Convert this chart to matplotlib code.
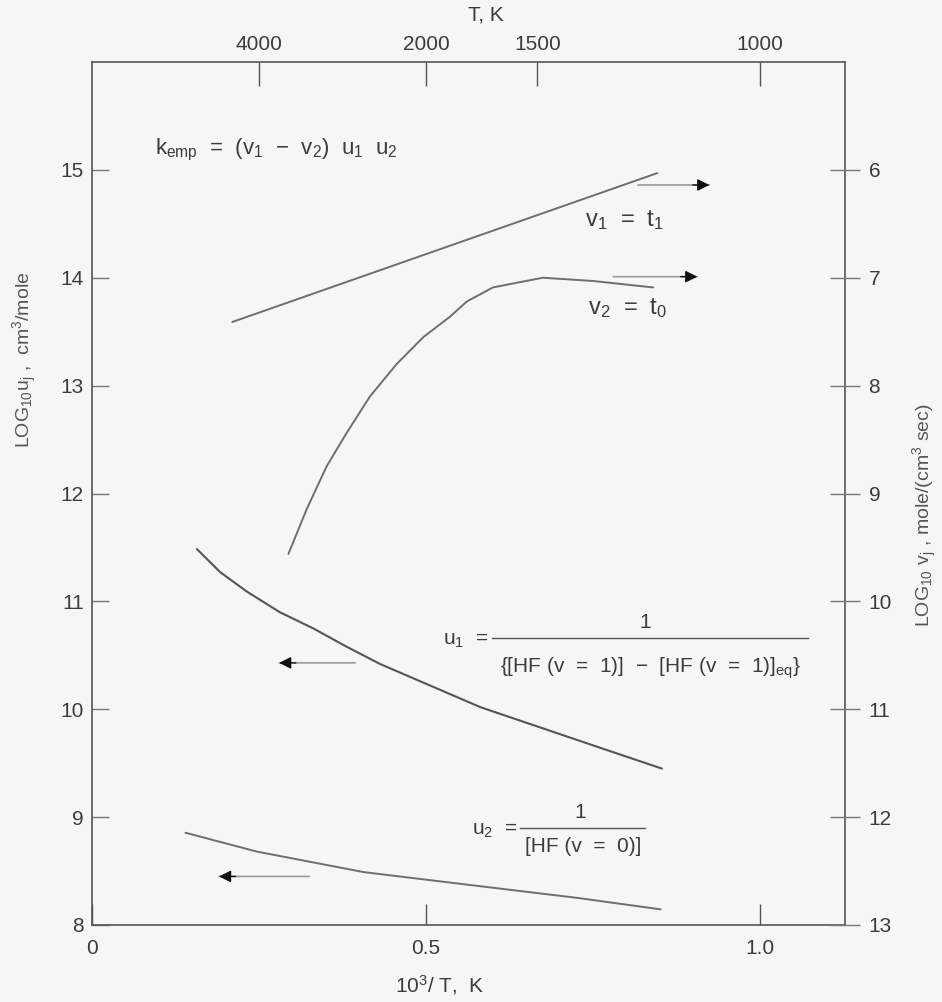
import numpy as np
import matplotlib
matplotlib.use("Agg")
import matplotlib.pyplot as plt
from matplotlib.lines import Line2D
from matplotlib import font_manager as fm

# ---------------- data ----------------
# x = 10^3/T ; left axis LOG10 u_j ; right axis LOG10 v_j
v1_x = [0.210, 0.846]
v1_y = [7.41, 6.03]

v2_x = [0.294, 0.321, 0.351, 0.381, 0.416, 0.456, 0.496, 0.536, 0.561, 0.600, 0.641, 0.675, 0.750, 0.840]
v2_y = [9.56, 9.15, 8.75, 8.44, 8.10, 7.80, 7.55, 7.36, 7.22, 7.09, 7.04, 7.00, 7.03, 7.09]

u1_x = [0.157, 0.192, 0.232, 0.281, 0.331, 0.381, 0.431, 0.506, 0.581, 0.681, 0.781, 0.853]
u1_y = [11.485, 11.27, 11.09, 10.90, 10.75, 10.58, 10.42, 10.22, 10.02, 9.81, 9.60, 9.45]

u2_x = [0.140, 0.247, 0.407, 0.567, 0.728, 0.851]
u2_y = [8.855, 8.68, 8.49, 8.37, 8.25, 8.145]

x_ticks = [0, 0.5, 1.0]
x_ticklabels = ["0", "0.5", "1.0"]
left_ticks = [8, 9, 10, 11, 12, 13, 14, 15]
right_ticks = [6, 7, 8, 9, 10, 11, 12, 13]
T_ticks = [4000, 2000, 1500, 1000]

# ---------------- fonts ----------------
names = {f.name for f in fm.fontManager.ttflist}
FONT = "Liberation Sans Narrow" if "Liberation Sans Narrow" in names else "Liberation Sans"
plt.rcParams["font.family"] = [FONT, "DejaVu Sans"]
plt.rcParams["mathtext.fontset"] = "custom"
plt.rcParams["mathtext.rm"] = FONT
plt.rcParams["mathtext.it"] = FONT
plt.rcParams["mathtext.bf"] = FONT

TXT = "#3c3c3c"
LINE = "#6e6e6e"
BG = "#f6f6f4"
FS = 15

W, H = 942, 1002
L, R, T, B = 92, 845, 62, 925

fig = plt.figure(figsize=(W / 100, H / 100), dpi=100, facecolor=BG)
ax = fig.add_axes([L / W, (H - B) / H, (R - L) / W, (B - T) / H])
ax.set_facecolor(BG)
ax.set_xlim(0, 1.127)
ax.set_ylim(8, 16)


def axpos(px, py):
    """pixel position of the page -> axes fraction (for annotations only)"""
    return (px - L) / (R - L), (B - py) / (B - T)


for s in ax.spines.values():
    s.set_color("#555555")
    s.set_linewidth(1.2)

ax.set_xticks(x_ticks)
ax.set_xticklabels(x_ticklabels)
ax.set_yticks(left_ticks)
ax.tick_params(axis="x", direction="in", length=15, width=1, color="#555", labelsize=FS, labelcolor=TXT, pad=10)
ax.tick_params(axis="y", direction="in", length=12, width=1, color="#777", labelsize=FS, labelcolor=TXT, pad=6)

# right axis
axr = ax.twinx()
axr.set_ylim(13, 5)
axr.set_yticks(right_ticks)
axr.tick_params(axis="y", direction="inout", length=22, width=1, color="#777", labelsize=FS, labelcolor=TXT, pad=6)
for s in axr.spines.values():
    s.set_visible(False)

# top axis (T, K)
axt = ax.twiny()
axt.set_xlim(ax.get_xlim())
axt.set_xticks(1000.0 / np.array(T_ticks, dtype=float))
axt.set_xticklabels([str(t) for t in T_ticks])
axt.tick_params(axis="x", direction="in", length=17, width=1, color="#555", labelsize=FS, labelcolor=TXT, pad=6)
for s in axt.spines.values():
    s.set_visible(False)

# curves
axr.plot(v1_x, v1_y, color=LINE, lw=1.4, solid_capstyle="round")
axr.plot(v2_x, v2_y, color=LINE, lw=1.4, solid_capstyle="round", solid_joinstyle="round")
ax.plot(u1_x, u1_y, color="#555555", lw=1.5, solid_capstyle="round", solid_joinstyle="round")
ax.plot(u2_x, u2_y, color=LINE, lw=1.4, solid_capstyle="round", solid_joinstyle="round")


# arrows (gray shaft + black head)
def arrow(tail_x, head_x, y):
    ax.annotate("", xy=(head_x, y), xytext=(tail_x, y),
                arrowprops=dict(arrowstyle="-", color="#9a9a9a", lw=1.2, shrinkA=0, shrinkB=0))
    d = 0.025 if head_x > tail_x else -0.025
    ax.annotate("", xy=(head_x, y), xytext=(head_x - d, y),
                arrowprops=dict(arrowstyle="-|>", color="#111111", lw=1.0,
                                mutation_scale=18, shrinkA=0, shrinkB=0))


arrow(0.817, 0.924, 14.86)
arrow(0.780, 0.906, 14.01)
arrow(0.394, 0.280, 10.43)
arrow(0.325, 0.190, 8.45)


def txt(px, py, s, fs=FS, ha="center", va="center", **kw):
    x, y = axpos(px, py)
    ax.text(x, y, s, transform=ax.transAxes, fontsize=fs, color=kw.pop("color", TXT),
            ha=ha, va=va, **kw)


def hline(px0, px1, py):
    x0, y0 = axpos(px0, py)
    x1, _ = axpos(px1, py)
    ax.add_line(Line2D([x0, x1], [y0, y0], transform=ax.transAxes, color="#555", lw=1.0))


# formulas / labels
txt(155, 150, r"k$_{\rm emp}$  =  (v$_1$  $-$  v$_2$)  u$_1$  u$_2$", fs=FS + 1, ha="left")
txt(585, 220, r"v$_1$  =  t$_1$", fs=FS + 2, ha="left")
txt(588, 308, r"v$_2$  =  t$_0$", fs=FS + 2, ha="left")

# u1 fraction
txt(488, 640, r"u$_1$  =", fs=FS, ha="right")
hline(492, 808, 638)
txt(645, 623, "1", fs=FS)
txt(651, 668, r"{[HF (v  =  1)]  $-$  [HF (v  =  1)]$_{\rm eq}$}", fs=FS)

# u2 fraction
txt(517, 831, r"u$_2$  =", fs=FS, ha="right")
hline(520, 645, 828)
txt(580, 813, "1", fs=FS)
txt(583, 846, "[HF (v  =  0)]", fs=FS)

# axis titles
ax.text(0.523, 1.054, "T, K", transform=ax.transAxes, fontsize=FS, color=TXT, ha="center", va="center")
ax.text(0.462, -0.0695, r"10$^3$/ T,  K", transform=ax.transAxes, fontsize=FS, color=TXT,
        ha="center", va="center")
ax.text(-0.089, 0.655, r"LOG$_{10}$u$_j$ ,  cm$^3$/mole", transform=ax.transAxes, fontsize=FS - 1,
        color="#555", ha="center", va="center", rotation=90)
ax.text(1.106, 0.475, r"LOG$_{10}$ v$_j$ , mole/(cm$^3$ sec)", transform=ax.transAxes, fontsize=FS - 1,
        color="#555", ha="center", va="center", rotation=90)

fig.savefig("out.png", dpi=100, facecolor=BG)
